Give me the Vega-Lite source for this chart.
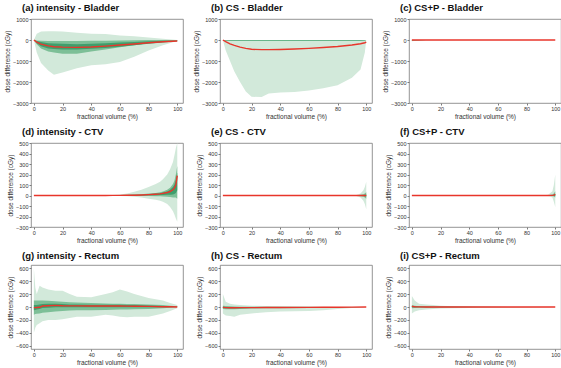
{
  "$schema": "https://vega.github.io/schema/vega-lite/v6.json",
  "padding": {"left": 4, "top": 2, "right": 0, "bottom": 2},
  "background": "white",
  "config": {
    "font": "Liberation Sans",
    "view": {"stroke": "#7a7a7a", "strokeWidth": 0.8},
    "axis": {"grid": false, "domain": false, "labelFontSize": 5.5, "titleFontSize": 6.5, "titleFontWeight": "normal", "labelColor": "#333", "titleColor": "#333", "tickSize": 2, "tickColor": "#7a7a7a", "labelPadding": 1, "titlePadding": 2, "labelOverlap": false, "format": "d"},
    "title": {"fontSize": 9.5, "fontWeight": "bold", "anchor": "start", "frame": "group", "offset": 5, "dx": -9, "color": "#111"}
  },
  "columns": 3,
  "spacing": {"row": 5, "column": 9},
  "datasets": {
    "a": [
      {"x": 0, "lo": 0, "hi": 0, "lo2": 0, "hi2": 0, "lo3": 0, "hi3": 0, "m": 0},
      {"x": 2, "lo": -600, "hi": 300, "lo2": -200, "hi2": -20, "lo3": -160, "hi3": -50, "m": -100},
      {"x": 5, "lo": -1100, "hi": 400, "lo2": -400, "hi2": -30, "lo3": -300, "hi3": -100, "m": -200},
      {"x": 10, "lo": -1450, "hi": 420, "lo2": -550, "hi2": -50, "lo3": -400, "hi3": -150, "m": -280},
      {"x": 14, "lo": -1650, "hi": 420, "lo2": -600, "hi2": -50, "lo3": -430, "hi3": -170, "m": -320},
      {"x": 20, "lo": -1550, "hi": 400, "lo2": -650, "hi2": -50, "lo3": -450, "hi3": -180, "m": -340},
      {"x": 30, "lo": -1350, "hi": 350, "lo2": -650, "hi2": -50, "lo3": -450, "hi3": -200, "m": -350},
      {"x": 40, "lo": -1200, "hi": 300, "lo2": -550, "hi2": -40, "lo3": -420, "hi3": -180, "m": -330},
      {"x": 50, "lo": -1150, "hi": 280, "lo2": -450, "hi2": -30, "lo3": -380, "hi3": -150, "m": -290},
      {"x": 60, "lo": -1050, "hi": 220, "lo2": -350, "hi2": -20, "lo3": -320, "hi3": -120, "m": -240},
      {"x": 70, "lo": -800, "hi": 180, "lo2": -250, "hi2": -10, "lo3": -250, "hi3": -90, "m": -190},
      {"x": 80, "lo": -500, "hi": 120, "lo2": -150, "hi2": 0, "lo3": -180, "hi3": -60, "m": -130},
      {"x": 90, "lo": -250, "hi": 60, "lo2": -100, "hi2": 0, "lo3": -120, "hi3": -40, "m": -80},
      {"x": 100, "lo": -50, "hi": 0, "lo2": -50, "hi2": 0, "lo3": -60, "hi3": -30, "m": -50}
    ],
    "b": [
      {"x": 0, "lo": 0, "hi": 0, "lo2": 0, "hi2": 0, "lo3": 0, "hi3": 0, "m": 0},
      {"x": 2, "lo": -500, "hi": 0, "lo2": -30, "hi2": 0, "lo3": -15, "hi3": 0, "m": -80},
      {"x": 5, "lo": -1000, "hi": 0, "lo2": -40, "hi2": 0, "lo3": -20, "hi3": 0, "m": -180},
      {"x": 8, "lo": -1500, "hi": 0, "lo2": -40, "hi2": 0, "lo3": -20, "hi3": 0, "m": -260},
      {"x": 12, "lo": -2000, "hi": 0, "lo2": -40, "hi2": 0, "lo3": -20, "hi3": 0, "m": -340},
      {"x": 16, "lo": -2450, "hi": 0, "lo2": -40, "hi2": 0, "lo3": -20, "hi3": 0, "m": -400},
      {"x": 20, "lo": -2700, "hi": 0, "lo2": -40, "hi2": 0, "lo3": -20, "hi3": 0, "m": -440},
      {"x": 27, "lo": -2720, "hi": 0, "lo2": -40, "hi2": 0, "lo3": -20, "hi3": 0, "m": -460},
      {"x": 32, "lo": -2550, "hi": 0, "lo2": -40, "hi2": 0, "lo3": -20, "hi3": 0, "m": -460},
      {"x": 40, "lo": -2500, "hi": 0, "lo2": -40, "hi2": 0, "lo3": -20, "hi3": 0, "m": -450},
      {"x": 50, "lo": -2480, "hi": 0, "lo2": -40, "hi2": 0, "lo3": -20, "hi3": 0, "m": -430},
      {"x": 60, "lo": -2400, "hi": 0, "lo2": -40, "hi2": 0, "lo3": -20, "hi3": 0, "m": -400},
      {"x": 70, "lo": -2300, "hi": 0, "lo2": -40, "hi2": 0, "lo3": -20, "hi3": 0, "m": -360},
      {"x": 80, "lo": -2150, "hi": 0, "lo2": -40, "hi2": 0, "lo3": -20, "hi3": 0, "m": -310},
      {"x": 90, "lo": -1800, "hi": 0, "lo2": -40, "hi2": 0, "lo3": -20, "hi3": 0, "m": -240},
      {"x": 96, "lo": -1400, "hi": 0, "lo2": -40, "hi2": 0, "lo3": -20, "hi3": 0, "m": -180},
      {"x": 99, "lo": -600, "hi": 0, "lo2": -30, "hi2": 0, "lo3": -15, "hi3": 0, "m": -130},
      {"x": 100, "lo": 0, "hi": 0, "lo2": 0, "hi2": 0, "lo3": 0, "hi3": 0, "m": -100}
    ],
    "c": [
      {"x": 0, "lo": -60, "hi": 10, "lo2": -30, "hi2": 0, "lo3": -10, "hi3": 0, "m": 0},
      {"x": 3, "lo": -40, "hi": 5, "lo2": -20, "hi2": 0, "lo3": -10, "hi3": 0, "m": 0},
      {"x": 10, "lo": -10, "hi": 5, "lo2": -5, "hi2": 0, "lo3": -3, "hi3": 0, "m": 0},
      {"x": 50, "lo": -5, "hi": 5, "lo2": -3, "hi2": 0, "lo3": -2, "hi3": 0, "m": 0},
      {"x": 100, "lo": 0, "hi": 0, "lo2": 0, "hi2": 0, "lo3": 0, "hi3": 0, "m": 0}
    ],
    "d": [
      {"x": 0, "lo": 0, "hi": 0, "lo2": 0, "hi2": 0, "lo3": 0, "hi3": 0, "m": 0},
      {"x": 50, "lo": -2, "hi": 3, "lo2": 0, "hi2": 1, "lo3": 0, "hi3": 1, "m": 0},
      {"x": 55, "lo": -3, "hi": 5, "lo2": 0, "hi2": 2, "lo3": 0, "hi3": 1, "m": 1},
      {"x": 60, "lo": -5, "hi": 10, "lo2": -1, "hi2": 4, "lo3": 0, "hi3": 2, "m": 1},
      {"x": 65, "lo": -8, "hi": 20, "lo2": -2, "hi2": 6, "lo3": 0, "hi3": 4, "m": 2},
      {"x": 70, "lo": -12, "hi": 35, "lo2": -3, "hi2": 9, "lo3": 0, "hi3": 6, "m": 3},
      {"x": 75, "lo": -20, "hi": 55, "lo2": -4, "hi2": 12, "lo3": 1, "hi3": 8, "m": 5},
      {"x": 80, "lo": -30, "hi": 80, "lo2": -5, "hi2": 18, "lo3": 2, "hi3": 12, "m": 8},
      {"x": 85, "lo": -40, "hi": 110, "lo2": -7, "hi2": 25, "lo3": 3, "hi3": 18, "m": 12},
      {"x": 88, "lo": -50, "hi": 130, "lo2": -8, "hi2": 32, "lo3": 4, "hi3": 22, "m": 15},
      {"x": 90, "lo": -60, "hi": 155, "lo2": -10, "hi2": 38, "lo3": 5, "hi3": 28, "m": 20},
      {"x": 93, "lo": -80, "hi": 200, "lo2": -12, "hi2": 55, "lo3": 6, "hi3": 38, "m": 28},
      {"x": 95, "lo": -110, "hi": 250, "lo2": -15, "hi2": 75, "lo3": 8, "hi3": 55, "m": 38},
      {"x": 97, "lo": -150, "hi": 320, "lo2": -20, "hi2": 110, "lo3": 10, "hi3": 80, "m": 55},
      {"x": 98, "lo": -180, "hi": 380, "lo2": -20, "hi2": 140, "lo3": 15, "hi3": 105, "m": 70},
      {"x": 99, "lo": -220, "hi": 450, "lo2": -20, "hi2": 200, "lo3": 25, "hi3": 150, "m": 100},
      {"x": 100, "lo": -250, "hi": 500, "lo2": -30, "hi2": 280, "lo3": 50, "hi3": 220, "m": 190}
    ],
    "e": [
      {"x": 0, "lo": 0, "hi": 0, "lo2": 0, "hi2": 0, "lo3": 0, "hi3": 0, "m": 0},
      {"x": 90, "lo": -2, "hi": 2, "lo2": -1, "hi2": 1, "lo3": 0, "hi3": 0, "m": 0},
      {"x": 93, "lo": -5, "hi": 5, "lo2": -2, "hi2": 2, "lo3": -1, "hi3": 1, "m": 0},
      {"x": 96, "lo": -20, "hi": 20, "lo2": -6, "hi2": 6, "lo3": -2, "hi3": 2, "m": 0},
      {"x": 98, "lo": -50, "hi": 50, "lo2": -12, "hi2": 12, "lo3": -4, "hi3": 4, "m": 0},
      {"x": 99, "lo": -80, "hi": 80, "lo2": -18, "hi2": 18, "lo3": -6, "hi3": 6, "m": 0},
      {"x": 100, "lo": -130, "hi": 130, "lo2": -30, "hi2": 30, "lo3": -10, "hi3": 10, "m": 0}
    ],
    "f": [
      {"x": 0, "lo": 0, "hi": 0, "lo2": 0, "hi2": 0, "lo3": 0, "hi3": 0, "m": 0},
      {"x": 92, "lo": -2, "hi": 2, "lo2": -1, "hi2": 1, "lo3": 0, "hi3": 0, "m": 0},
      {"x": 95, "lo": -5, "hi": 6, "lo2": -2, "hi2": 2, "lo3": -1, "hi3": 1, "m": 0},
      {"x": 98, "lo": -20, "hi": 40, "lo2": -6, "hi2": 10, "lo3": -2, "hi3": 3, "m": 1},
      {"x": 99, "lo": -60, "hi": 100, "lo2": -10, "hi2": 20, "lo3": -3, "hi3": 6, "m": 3},
      {"x": 100, "lo": -110, "hi": 200, "lo2": -20, "hi2": 40, "lo3": -5, "hi3": 15, "m": 10}
    ],
    "g": [
      {"x": 0, "lo": -400, "hi": 600, "lo2": -120, "hi2": 100, "lo3": -50, "hi3": 30, "m": -10},
      {"x": 1, "lo": -320, "hi": 300, "lo2": -110, "hi2": 100, "lo3": -45, "hi3": 30, "m": -10},
      {"x": 2, "lo": -280, "hi": 200, "lo2": -105, "hi2": 100, "lo3": -40, "hi3": 30, "m": -8},
      {"x": 4, "lo": -250, "hi": 330, "lo2": -100, "hi2": 100, "lo3": -30, "hi3": 40, "m": -5},
      {"x": 6, "lo": -220, "hi": 300, "lo2": -90, "hi2": 100, "lo3": -15, "hi3": 45, "m": 15},
      {"x": 10, "lo": -200, "hi": 270, "lo2": -80, "hi2": 95, "lo3": -10, "hi3": 50, "m": 20},
      {"x": 15, "lo": -200, "hi": 250, "lo2": -70, "hi2": 90, "lo3": -5, "hi3": 50, "m": 25},
      {"x": 20, "lo": -190, "hi": 250, "lo2": -60, "hi2": 80, "lo3": -5, "hi3": 45, "m": 20},
      {"x": 25, "lo": -170, "hi": 200, "lo2": -55, "hi2": 75, "lo3": -5, "hi3": 40, "m": 18},
      {"x": 30, "lo": -150, "hi": 160, "lo2": -50, "hi2": 70, "lo3": -5, "hi3": 40, "m": 17},
      {"x": 40, "lo": -150, "hi": 150, "lo2": -50, "hi2": 60, "lo3": -5, "hi3": 35, "m": 15},
      {"x": 50, "lo": -120, "hi": 200, "lo2": -45, "hi2": 55, "lo3": -5, "hi3": 35, "m": 15},
      {"x": 55, "lo": -130, "hi": 230, "lo2": -42, "hi2": 52, "lo3": -5, "hi3": 35, "m": 15},
      {"x": 60, "lo": -150, "hi": 270, "lo2": -40, "hi2": 50, "lo3": -5, "hi3": 35, "m": 15},
      {"x": 65, "lo": -160, "hi": 240, "lo2": -38, "hi2": 48, "lo3": -5, "hi3": 30, "m": 14},
      {"x": 70, "lo": -150, "hi": 200, "lo2": -35, "hi2": 45, "lo3": -5, "hi3": 30, "m": 12},
      {"x": 80, "lo": -150, "hi": 140, "lo2": -30, "hi2": 40, "lo3": -5, "hi3": 25, "m": 10},
      {"x": 90, "lo": -100, "hi": 100, "lo2": -20, "hi2": 30, "lo3": -5, "hi3": 15, "m": 5},
      {"x": 95, "lo": -60, "hi": 60, "lo2": -10, "hi2": 20, "lo3": -3, "hi3": 10, "m": 3},
      {"x": 100, "lo": -20, "hi": 30, "lo2": 0, "hi2": 10, "lo3": 0, "hi3": 5, "m": 0}
    ],
    "h": [
      {"x": 0, "lo": -100, "hi": 200, "lo2": -30, "hi2": 20, "lo3": -15, "hi3": 5, "m": -5},
      {"x": 2, "lo": -130, "hi": 80, "lo2": -35, "hi2": 15, "lo3": -20, "hi3": 0, "m": -10},
      {"x": 5, "lo": -140, "hi": 50, "lo2": -35, "hi2": 10, "lo3": -20, "hi3": 0, "m": -12},
      {"x": 8, "lo": -150, "hi": 40, "lo2": -35, "hi2": 8, "lo3": -20, "hi3": 0, "m": -12},
      {"x": 12, "lo": -120, "hi": 30, "lo2": -30, "hi2": 5, "lo3": -18, "hi3": 0, "m": -10},
      {"x": 20, "lo": -100, "hi": 20, "lo2": -25, "hi2": 5, "lo3": -15, "hi3": 0, "m": -10},
      {"x": 30, "lo": -80, "hi": 15, "lo2": -20, "hi2": 3, "lo3": -12, "hi3": 0, "m": -8},
      {"x": 40, "lo": -70, "hi": 10, "lo2": -18, "hi2": 2, "lo3": -10, "hi3": 0, "m": -7},
      {"x": 60, "lo": -60, "hi": 5, "lo2": -15, "hi2": 2, "lo3": -8, "hi3": 0, "m": -6},
      {"x": 70, "lo": -50, "hi": 5, "lo2": -12, "hi2": 1, "lo3": -6, "hi3": 0, "m": -5},
      {"x": 80, "lo": -30, "hi": 0, "lo2": -8, "hi2": 0, "lo3": -4, "hi3": 0, "m": -3},
      {"x": 90, "lo": -15, "hi": 0, "lo2": -4, "hi2": 0, "lo3": -2, "hi3": 0, "m": -2},
      {"x": 100, "lo": 0, "hi": 0, "lo2": 0, "hi2": 0, "lo3": 0, "hi3": 0, "m": 0}
    ],
    "i": [
      {"x": 0, "lo": -100, "hi": 170, "lo2": -20, "hi2": 30, "lo3": -5, "hi3": 15, "m": 10},
      {"x": 2, "lo": -70, "hi": 100, "lo2": -15, "hi2": 20, "lo3": -5, "hi3": 10, "m": 5},
      {"x": 5, "lo": -50, "hi": 50, "lo2": -12, "hi2": 12, "lo3": -4, "hi3": 6, "m": 2},
      {"x": 10, "lo": -40, "hi": 40, "lo2": -10, "hi2": 10, "lo3": -3, "hi3": 4, "m": 0},
      {"x": 15, "lo": -30, "hi": 30, "lo2": -8, "hi2": 8, "lo3": -3, "hi3": 3, "m": 0},
      {"x": 20, "lo": -25, "hi": 20, "lo2": -6, "hi2": 6, "lo3": -2, "hi3": 2, "m": 0},
      {"x": 30, "lo": -20, "hi": 10, "lo2": -5, "hi2": 4, "lo3": -2, "hi3": 2, "m": 0},
      {"x": 50, "lo": -10, "hi": 5, "lo2": -3, "hi2": 2, "lo3": -1, "hi3": 1, "m": 0},
      {"x": 70, "lo": -5, "hi": 0, "lo2": -2, "hi2": 0, "lo3": -1, "hi3": 0, "m": 0},
      {"x": 100, "lo": 0, "hi": 0, "lo2": 0, "hi2": 0, "lo3": 0, "hi3": 0, "m": 0}
    ]
  },
  "concat": [
    {"title": {"text": "(a) intensity - Bladder", "frame": "group", "anchor": "start", "dx": -9}, "data": {"name": "a"}, "width": 152, "height": 84,
     "encoding": {"x": {"field": "x", "type": "quantitative", "scale": {"domain": [-2, 104]}, "axis": {"values": [0, 20, 40, 60, 80, 100], "title": "fractional volume (%)", "labelOverlap": false}}},
     "layer": [
      {"mark": {"type": "area", "color": "#d2e9da"}, "encoding": {"y": {"field": "lo", "type": "quantitative", "scale": {"domain": [-3000, 1000]}, "axis": {"values": [-3000, -2000, -1000, 0, 1000], "title": "dose difference (cGy)", "labelOverlap": false}}, "y2": {"field": "hi"}}},
      {"mark": {"type": "area", "color": "#7dbf97"}, "encoding": {"y": {"field": "lo2", "type": "quantitative", "scale": {"domain": [-3000, 1000]}, "axis": {"values": [-3000, -2000, -1000, 0, 1000], "title": "dose difference (cGy)", "labelOverlap": false}}, "y2": {"field": "hi2"}}},
      {"mark": {"type": "area", "color": "#3f9e6c"}, "encoding": {"y": {"field": "lo3", "type": "quantitative", "scale": {"domain": [-3000, 1000]}, "axis": {"values": [-3000, -2000, -1000, 0, 1000], "title": "dose difference (cGy)", "labelOverlap": false}}, "y2": {"field": "hi3"}}},
      {"mark": {"type": "line", "color": "#e8352b", "strokeWidth": 1.4}, "encoding": {"y": {"field": "m", "type": "quantitative", "scale": {"domain": [-3000, 1000]}, "axis": {"values": [-3000, -2000, -1000, 0, 1000], "title": "dose difference (cGy)", "labelOverlap": false}}}}
     ]},
    {"title": {"text": "(b) CS - Bladder", "frame": "group", "anchor": "start", "dx": -9}, "data": {"name": "b"}, "width": 152, "height": 84,
     "encoding": {"x": {"field": "x", "type": "quantitative", "scale": {"domain": [-2, 104]}, "axis": {"values": [0, 20, 40, 60, 80, 100], "title": "fractional volume (%)", "labelOverlap": false}}},
     "layer": [
      {"mark": {"type": "area", "color": "#d2e9da"}, "encoding": {"y": {"field": "lo", "type": "quantitative", "scale": {"domain": [-3000, 1000]}, "axis": {"values": [-3000, -2000, -1000, 0, 1000], "title": "dose difference (cGy)", "labelOverlap": false}}, "y2": {"field": "hi"}}},
      {"mark": {"type": "area", "color": "#7dbf97"}, "encoding": {"y": {"field": "lo2", "type": "quantitative", "scale": {"domain": [-3000, 1000]}, "axis": {"values": [-3000, -2000, -1000, 0, 1000], "title": "dose difference (cGy)", "labelOverlap": false}}, "y2": {"field": "hi2"}}},
      {"mark": {"type": "area", "color": "#3f9e6c"}, "encoding": {"y": {"field": "lo3", "type": "quantitative", "scale": {"domain": [-3000, 1000]}, "axis": {"values": [-3000, -2000, -1000, 0, 1000], "title": "dose difference (cGy)", "labelOverlap": false}}, "y2": {"field": "hi3"}}},
      {"mark": {"type": "line", "color": "#e8352b", "strokeWidth": 1.4}, "encoding": {"y": {"field": "m", "type": "quantitative", "scale": {"domain": [-3000, 1000]}, "axis": {"values": [-3000, -2000, -1000, 0, 1000], "title": "dose difference (cGy)", "labelOverlap": false}}}}
     ]},
    {"title": {"text": "(c) CS+P - Bladder", "frame": "group", "anchor": "start", "dx": -9}, "data": {"name": "c"}, "width": 152, "height": 84,
     "encoding": {"x": {"field": "x", "type": "quantitative", "scale": {"domain": [-2, 104]}, "axis": {"values": [0, 20, 40, 60, 80, 100], "title": "fractional volume (%)", "labelOverlap": false}}},
     "layer": [
      {"mark": {"type": "area", "color": "#d2e9da"}, "encoding": {"y": {"field": "lo", "type": "quantitative", "scale": {"domain": [-3000, 1000]}, "axis": {"values": [-3000, -2000, -1000, 0, 1000], "title": "dose difference (cGy)", "labelOverlap": false}}, "y2": {"field": "hi"}}},
      {"mark": {"type": "area", "color": "#7dbf97"}, "encoding": {"y": {"field": "lo2", "type": "quantitative", "scale": {"domain": [-3000, 1000]}, "axis": {"values": [-3000, -2000, -1000, 0, 1000], "title": "dose difference (cGy)", "labelOverlap": false}}, "y2": {"field": "hi2"}}},
      {"mark": {"type": "area", "color": "#3f9e6c"}, "encoding": {"y": {"field": "lo3", "type": "quantitative", "scale": {"domain": [-3000, 1000]}, "axis": {"values": [-3000, -2000, -1000, 0, 1000], "title": "dose difference (cGy)", "labelOverlap": false}}, "y2": {"field": "hi3"}}},
      {"mark": {"type": "line", "color": "#e8352b", "strokeWidth": 1.4}, "encoding": {"y": {"field": "m", "type": "quantitative", "scale": {"domain": [-3000, 1000]}, "axis": {"values": [-3000, -2000, -1000, 0, 1000], "title": "dose difference (cGy)", "labelOverlap": false}}}}
     ]},
    {"title": {"text": "(d) intensity - CTV", "frame": "group", "anchor": "start", "dx": -9}, "data": {"name": "d"}, "width": 152, "height": 84,
     "encoding": {"x": {"field": "x", "type": "quantitative", "scale": {"domain": [-2, 104]}, "axis": {"values": [0, 20, 40, 60, 80, 100], "title": "fractional volume (%)", "labelOverlap": false}}},
     "layer": [
      {"mark": {"type": "area", "color": "#d2e9da"}, "encoding": {"y": {"field": "lo", "type": "quantitative", "scale": {"domain": [-300, 500]}, "axis": {"values": [-300, -200, -100, 0, 100, 200, 300, 400, 500], "title": "dose difference (cGy)", "labelOverlap": false}}, "y2": {"field": "hi"}}},
      {"mark": {"type": "area", "color": "#7dbf97"}, "encoding": {"y": {"field": "lo2", "type": "quantitative", "scale": {"domain": [-300, 500]}, "axis": {"values": [-300, -200, -100, 0, 100, 200, 300, 400, 500], "title": "dose difference (cGy)", "labelOverlap": false}}, "y2": {"field": "hi2"}}},
      {"mark": {"type": "area", "color": "#3f9e6c"}, "encoding": {"y": {"field": "lo3", "type": "quantitative", "scale": {"domain": [-300, 500]}, "axis": {"values": [-300, -200, -100, 0, 100, 200, 300, 400, 500], "title": "dose difference (cGy)", "labelOverlap": false}}, "y2": {"field": "hi3"}}},
      {"mark": {"type": "line", "color": "#e8352b", "strokeWidth": 1.4}, "encoding": {"y": {"field": "m", "type": "quantitative", "scale": {"domain": [-300, 500]}, "axis": {"values": [-300, -200, -100, 0, 100, 200, 300, 400, 500], "title": "dose difference (cGy)", "labelOverlap": false}}}}
     ]},
    {"title": {"text": "(e) CS - CTV", "frame": "group", "anchor": "start", "dx": -9}, "data": {"name": "e"}, "width": 152, "height": 84,
     "encoding": {"x": {"field": "x", "type": "quantitative", "scale": {"domain": [-2, 104]}, "axis": {"values": [0, 20, 40, 60, 80, 100], "title": "fractional volume (%)", "labelOverlap": false}}},
     "layer": [
      {"mark": {"type": "area", "color": "#d2e9da"}, "encoding": {"y": {"field": "lo", "type": "quantitative", "scale": {"domain": [-300, 500]}, "axis": {"values": [-300, -200, -100, 0, 100, 200, 300, 400, 500], "title": "dose difference (cGy)", "labelOverlap": false}}, "y2": {"field": "hi"}}},
      {"mark": {"type": "area", "color": "#7dbf97"}, "encoding": {"y": {"field": "lo2", "type": "quantitative", "scale": {"domain": [-300, 500]}, "axis": {"values": [-300, -200, -100, 0, 100, 200, 300, 400, 500], "title": "dose difference (cGy)", "labelOverlap": false}}, "y2": {"field": "hi2"}}},
      {"mark": {"type": "area", "color": "#3f9e6c"}, "encoding": {"y": {"field": "lo3", "type": "quantitative", "scale": {"domain": [-300, 500]}, "axis": {"values": [-300, -200, -100, 0, 100, 200, 300, 400, 500], "title": "dose difference (cGy)", "labelOverlap": false}}, "y2": {"field": "hi3"}}},
      {"mark": {"type": "line", "color": "#e8352b", "strokeWidth": 1.4}, "encoding": {"y": {"field": "m", "type": "quantitative", "scale": {"domain": [-300, 500]}, "axis": {"values": [-300, -200, -100, 0, 100, 200, 300, 400, 500], "title": "dose difference (cGy)", "labelOverlap": false}}}}
     ]},
    {"title": {"text": "(f) CS+P - CTV", "frame": "group", "anchor": "start", "dx": -9}, "data": {"name": "f"}, "width": 152, "height": 84,
     "encoding": {"x": {"field": "x", "type": "quantitative", "scale": {"domain": [-2, 104]}, "axis": {"values": [0, 20, 40, 60, 80, 100], "title": "fractional volume (%)", "labelOverlap": false}}},
     "layer": [
      {"mark": {"type": "area", "color": "#d2e9da"}, "encoding": {"y": {"field": "lo", "type": "quantitative", "scale": {"domain": [-300, 500]}, "axis": {"values": [-300, -200, -100, 0, 100, 200, 300, 400, 500], "title": "dose difference (cGy)", "labelOverlap": false}}, "y2": {"field": "hi"}}},
      {"mark": {"type": "area", "color": "#7dbf97"}, "encoding": {"y": {"field": "lo2", "type": "quantitative", "scale": {"domain": [-300, 500]}, "axis": {"values": [-300, -200, -100, 0, 100, 200, 300, 400, 500], "title": "dose difference (cGy)", "labelOverlap": false}}, "y2": {"field": "hi2"}}},
      {"mark": {"type": "area", "color": "#3f9e6c"}, "encoding": {"y": {"field": "lo3", "type": "quantitative", "scale": {"domain": [-300, 500]}, "axis": {"values": [-300, -200, -100, 0, 100, 200, 300, 400, 500], "title": "dose difference (cGy)", "labelOverlap": false}}, "y2": {"field": "hi3"}}},
      {"mark": {"type": "line", "color": "#e8352b", "strokeWidth": 1.4}, "encoding": {"y": {"field": "m", "type": "quantitative", "scale": {"domain": [-300, 500]}, "axis": {"values": [-300, -200, -100, 0, 100, 200, 300, 400, 500], "title": "dose difference (cGy)", "labelOverlap": false}}}}
     ]},
    {"title": {"text": "(g) intensity - Rectum", "frame": "group", "anchor": "start", "dx": -9}, "data": {"name": "g"}, "width": 152, "height": 84,
     "encoding": {"x": {"field": "x", "type": "quantitative", "scale": {"domain": [-2, 104]}, "axis": {"values": [0, 20, 40, 60, 80, 100], "title": "fractional volume (%)", "labelOverlap": false}}},
     "layer": [
      {"mark": {"type": "area", "color": "#d2e9da"}, "encoding": {"y": {"field": "lo", "type": "quantitative", "scale": {"domain": [-650, 650]}, "axis": {"values": [-600, -400, -200, 0, 200, 400, 600], "title": "dose difference (cGy)", "labelOverlap": false}}, "y2": {"field": "hi"}}},
      {"mark": {"type": "area", "color": "#7dbf97"}, "encoding": {"y": {"field": "lo2", "type": "quantitative", "scale": {"domain": [-650, 650]}, "axis": {"values": [-600, -400, -200, 0, 200, 400, 600], "title": "dose difference (cGy)", "labelOverlap": false}}, "y2": {"field": "hi2"}}},
      {"mark": {"type": "area", "color": "#3f9e6c"}, "encoding": {"y": {"field": "lo3", "type": "quantitative", "scale": {"domain": [-650, 650]}, "axis": {"values": [-600, -400, -200, 0, 200, 400, 600], "title": "dose difference (cGy)", "labelOverlap": false}}, "y2": {"field": "hi3"}}},
      {"mark": {"type": "line", "color": "#e8352b", "strokeWidth": 1.4}, "encoding": {"y": {"field": "m", "type": "quantitative", "scale": {"domain": [-650, 650]}, "axis": {"values": [-600, -400, -200, 0, 200, 400, 600], "title": "dose difference (cGy)", "labelOverlap": false}}}}
     ]},
    {"title": {"text": "(h) CS - Rectum", "frame": "group", "anchor": "start", "dx": -9}, "data": {"name": "h"}, "width": 152, "height": 84,
     "encoding": {"x": {"field": "x", "type": "quantitative", "scale": {"domain": [-2, 104]}, "axis": {"values": [0, 20, 40, 60, 80, 100], "title": "fractional volume (%)", "labelOverlap": false}}},
     "layer": [
      {"mark": {"type": "area", "color": "#d2e9da"}, "encoding": {"y": {"field": "lo", "type": "quantitative", "scale": {"domain": [-650, 650]}, "axis": {"values": [-600, -400, -200, 0, 200, 400, 600], "title": "dose difference (cGy)", "labelOverlap": false}}, "y2": {"field": "hi"}}},
      {"mark": {"type": "area", "color": "#7dbf97"}, "encoding": {"y": {"field": "lo2", "type": "quantitative", "scale": {"domain": [-650, 650]}, "axis": {"values": [-600, -400, -200, 0, 200, 400, 600], "title": "dose difference (cGy)", "labelOverlap": false}}, "y2": {"field": "hi2"}}},
      {"mark": {"type": "area", "color": "#3f9e6c"}, "encoding": {"y": {"field": "lo3", "type": "quantitative", "scale": {"domain": [-650, 650]}, "axis": {"values": [-600, -400, -200, 0, 200, 400, 600], "title": "dose difference (cGy)", "labelOverlap": false}}, "y2": {"field": "hi3"}}},
      {"mark": {"type": "line", "color": "#e8352b", "strokeWidth": 1.4}, "encoding": {"y": {"field": "m", "type": "quantitative", "scale": {"domain": [-650, 650]}, "axis": {"values": [-600, -400, -200, 0, 200, 400, 600], "title": "dose difference (cGy)", "labelOverlap": false}}}}
     ]},
    {"title": {"text": "(i) CS+P - Rectum", "frame": "group", "anchor": "start", "dx": -9}, "data": {"name": "i"}, "width": 152, "height": 84,
     "encoding": {"x": {"field": "x", "type": "quantitative", "scale": {"domain": [-2, 104]}, "axis": {"values": [0, 20, 40, 60, 80, 100], "title": "fractional volume (%)", "labelOverlap": false}}},
     "layer": [
      {"mark": {"type": "area", "color": "#d2e9da"}, "encoding": {"y": {"field": "lo", "type": "quantitative", "scale": {"domain": [-650, 650]}, "axis": {"values": [-600, -400, -200, 0, 200, 400, 600], "title": "dose difference (cGy)", "labelOverlap": false}}, "y2": {"field": "hi"}}},
      {"mark": {"type": "area", "color": "#7dbf97"}, "encoding": {"y": {"field": "lo2", "type": "quantitative", "scale": {"domain": [-650, 650]}, "axis": {"values": [-600, -400, -200, 0, 200, 400, 600], "title": "dose difference (cGy)", "labelOverlap": false}}, "y2": {"field": "hi2"}}},
      {"mark": {"type": "area", "color": "#3f9e6c"}, "encoding": {"y": {"field": "lo3", "type": "quantitative", "scale": {"domain": [-650, 650]}, "axis": {"values": [-600, -400, -200, 0, 200, 400, 600], "title": "dose difference (cGy)", "labelOverlap": false}}, "y2": {"field": "hi3"}}},
      {"mark": {"type": "line", "color": "#e8352b", "strokeWidth": 1.4}, "encoding": {"y": {"field": "m", "type": "quantitative", "scale": {"domain": [-650, 650]}, "axis": {"values": [-600, -400, -200, 0, 200, 400, 600], "title": "dose difference (cGy)", "labelOverlap": false}}}}
     ]}
  ]
}
